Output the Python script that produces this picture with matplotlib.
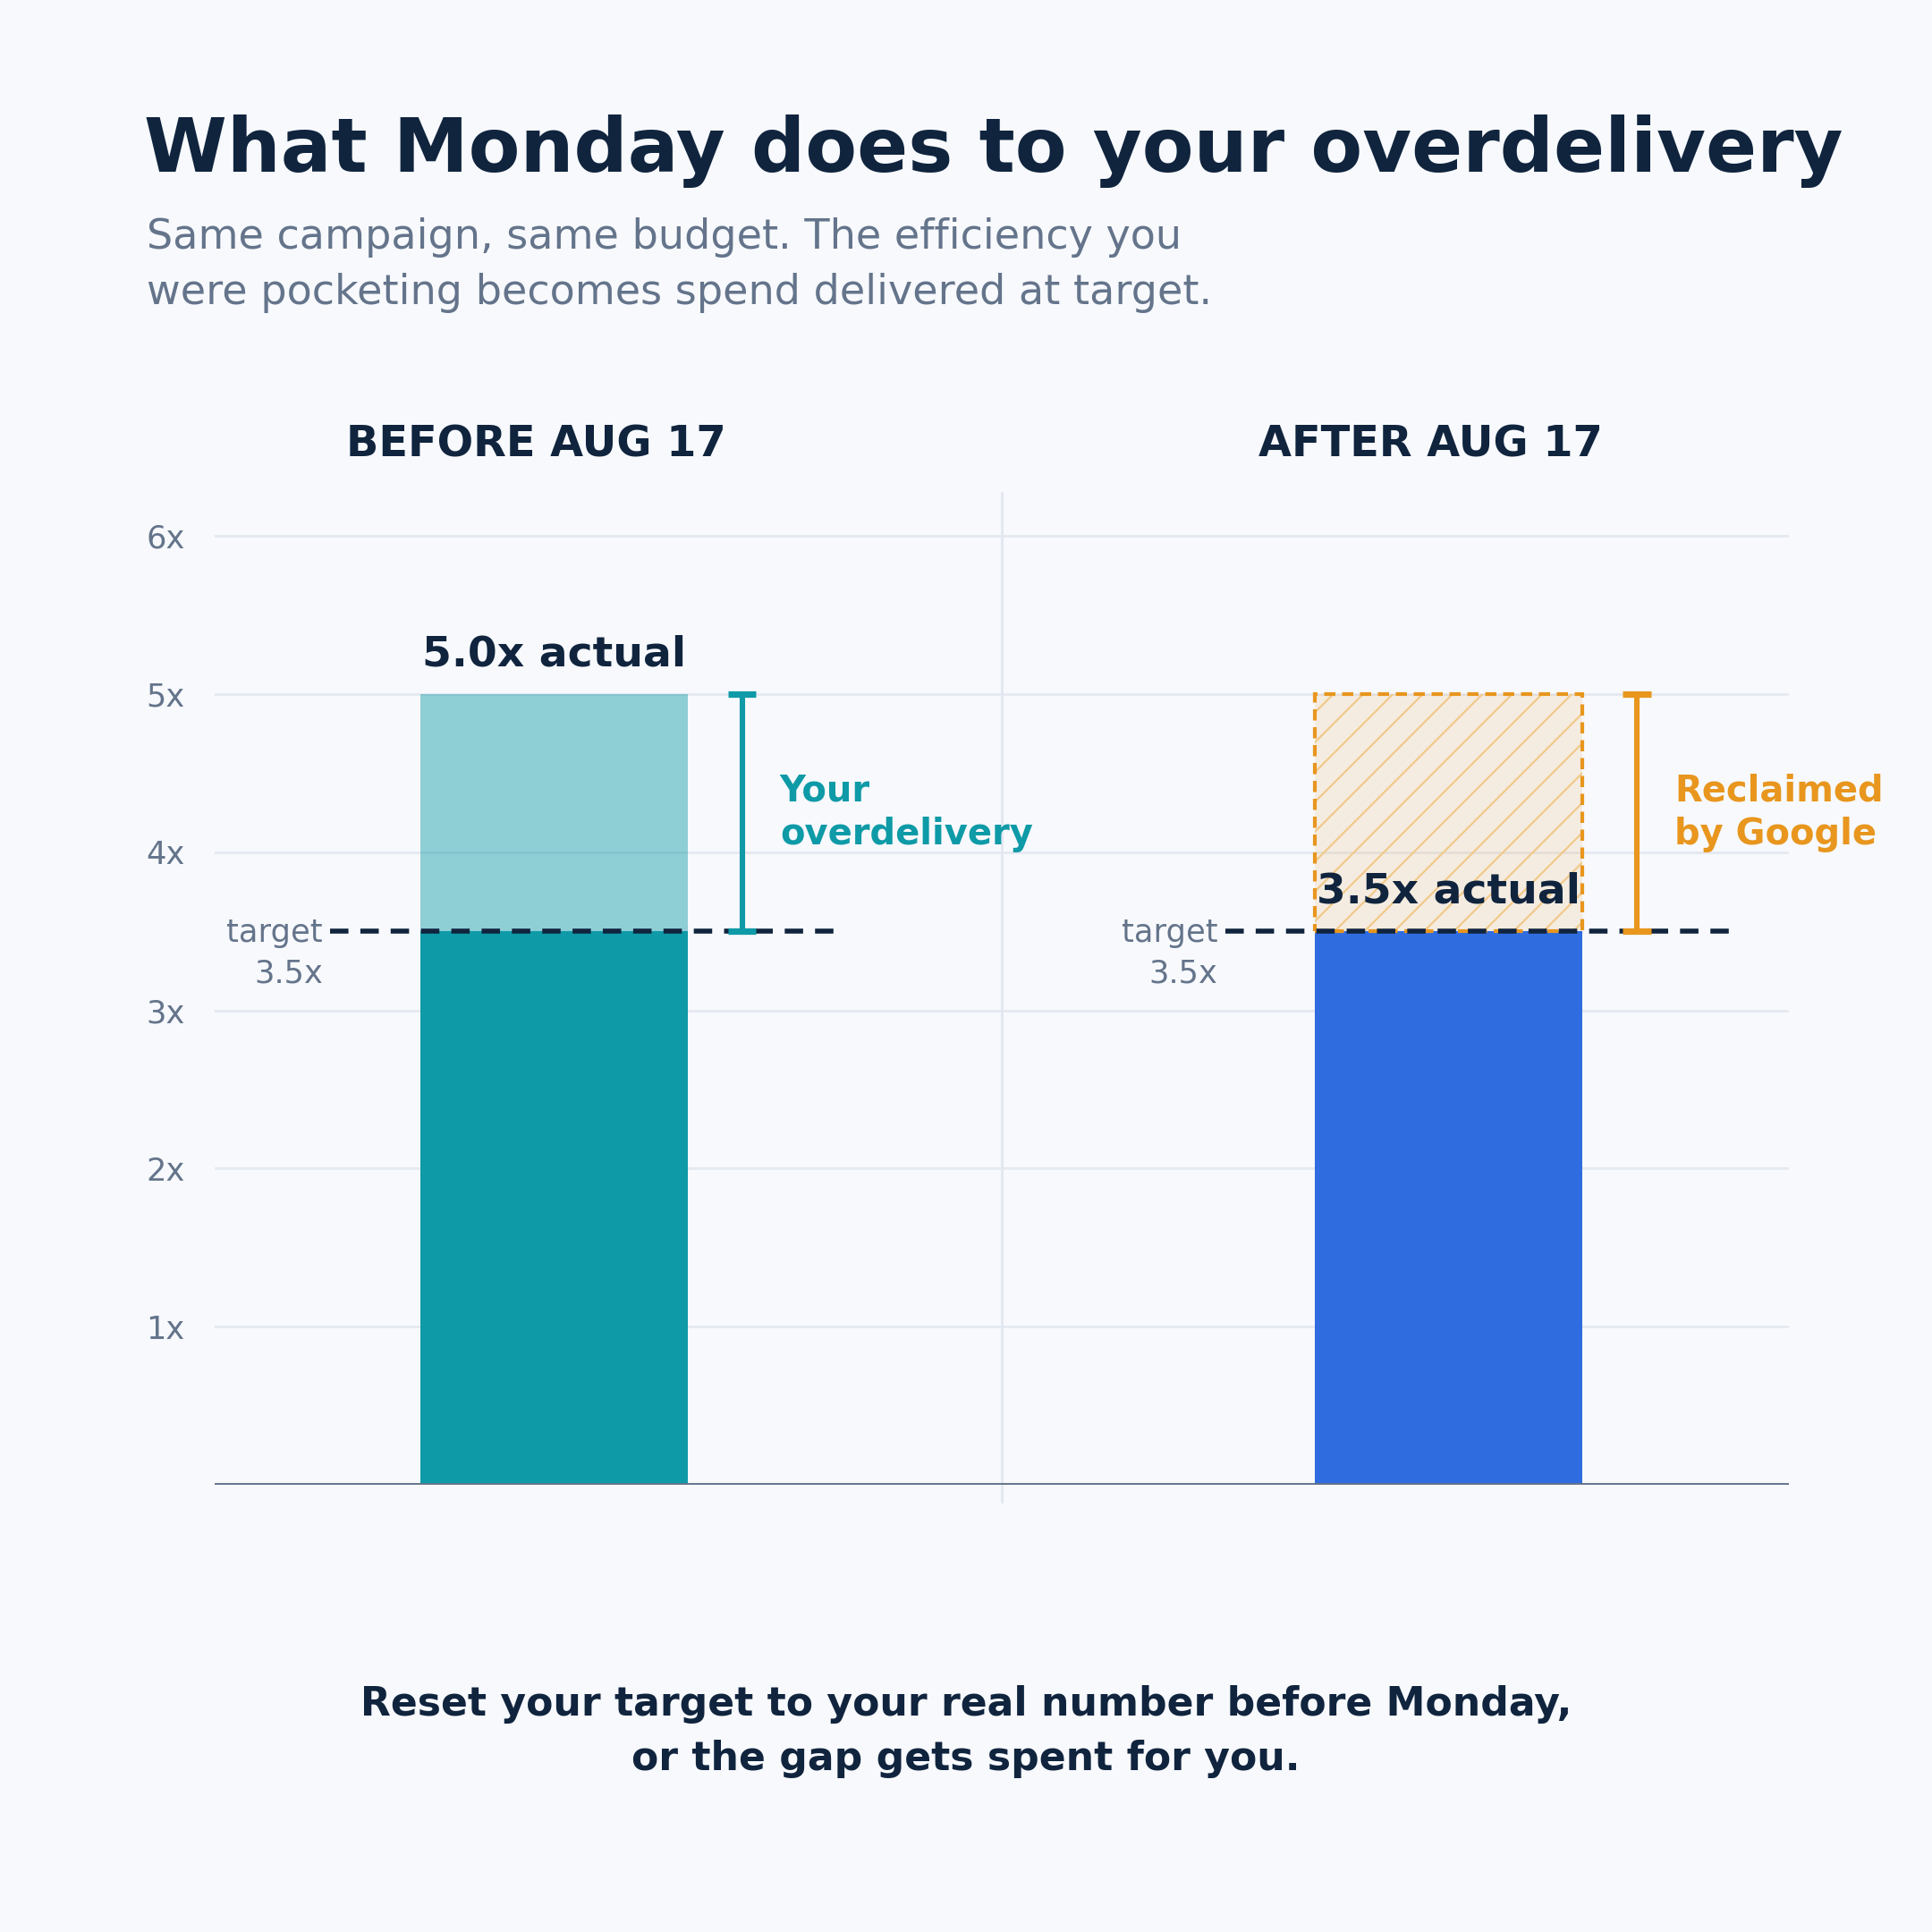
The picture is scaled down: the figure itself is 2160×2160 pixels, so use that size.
import matplotlib
matplotlib.use("Agg")
import matplotlib.pyplot as plt

# ---------------- data ----------------
periods = ["BEFORE AUG 17", "AFTER AUG 17"]
target_roas = [3.5, 3.5]
actual_roas = [5.0, 3.5]
potential_roas = [5.0, 5.0]
gap_labels = ["Your\noverdelivery", "Reclaimed\nby Google"]
ytick_values = [1, 2, 3, 4, 5, 6]
ytick_labels = ["1x", "2x", "3x", "4x", "5x", "6x"]

title = "What Monday does to your overdelivery"
subtitle = ("Same campaign, same budget. The efficiency you\n"
            "were pocketing becomes spend delivered at target.")
footer = ("Reset your target to your real number before Monday,\n"
          "or the gap gets spent for you.")

# ---------------- style / layout ----------------
BG = "#f7f9fc"
NAVY = "#10243e"
GRAY = "#64748b"
GRID = "#e5e9f0"
TEAL = "#0e9aa7"
BLUE = "#2f6ce0"
ORANGE = "#e8961e"
HATCH = "#f1c98a"

bar_x = [0.431, 1.568]
bar_w = 0.34
header_dx = -0.023
bracket_dx = 0.239
label_dx = 0.287
line_left = -0.284
line_right = 0.357
target_lbl_dx = -0.2935

plt.rcParams["font.family"] = ["DejaVu Sans"]
plt.rcParams["hatch.linewidth"] = 0.8

fig = plt.figure(figsize=(10.8, 10.8), dpi=200, facecolor=BG)
ax = fig.add_axes([0.1111, 0.2315, 0.8148, 0.5157])
ax.set_facecolor(BG)
ax.set_xlim(0, 2)
ax.set_ylim(0, 6.3)
for s in ax.spines.values():
    s.set_visible(False)
ax.set_xticks([])
ax.set_yticks(ytick_values)
ax.set_yticklabels(ytick_labels)
ax.tick_params(axis="y", length=0, pad=12, labelsize=12.7, labelcolor=GRAY)
ax.yaxis.grid(True, color=GRID, linewidth=1.0, zorder=0)
ax.set_axisbelow(True)
ax.axhline(0, color=GRAY, linewidth=1.4, zorder=5)

# divider between the two panels
ax.plot([1, 1], [-0.107, 6.27], color="#e2e8f0", linewidth=1.0,
        clip_on=False, zorder=1)

# ---------------- left panel ----------------
x0 = bar_x[0]
ax.bar(x0, min(actual_roas[0], target_roas[0]), width=bar_w, color=TEAL,
       zorder=2, linewidth=0)
ax.bar(x0, actual_roas[0] - target_roas[0], bottom=target_roas[0], width=bar_w,
       color=TEAL, alpha=0.45, zorder=2, linewidth=0)

# ---------------- right panel ----------------
x1 = bar_x[1]
ax.bar(x1, actual_roas[1], width=bar_w, color=BLUE, zorder=2, linewidth=0)
gap = potential_roas[1] - actual_roas[1]
ax.bar(x1, gap, bottom=actual_roas[1], width=bar_w,
       facecolor=(0.91, 0.59, 0.12, 0.12), edgecolor=HATCH, hatch="//",
       linewidth=0, zorder=2)
ax.bar(x1, gap, bottom=actual_roas[1], width=bar_w, fill=False,
       edgecolor=ORANGE, linewidth=1.5, linestyle=(0, (3, 1.8)), zorder=3)

bracket_colors = [TEAL, ORANGE]
for i, x in enumerate(bar_x):
    # panel header
    ax.text(x + header_dx, 6.5, periods[i], ha="center", va="baseline",
            fontsize=17.2, fontweight="bold", color=NAVY, clip_on=False)
    # target line
    ax.plot([x + line_left, x + line_right], [target_roas[i]] * 2,
            color=NAVY, linewidth=2.0, linestyle=(0, (3.7, 2.4)), zorder=6,
            solid_capstyle="butt", dash_capstyle="butt")
    ax.text(x + target_lbl_dx, target_roas[i] - 0.327,
            f"target\n{target_roas[i]}x", ha="right", va="baseline",
            multialignment="right", fontsize=12.7, color=GRAY,
            linespacing=1.45, zorder=7)
    # actual label
    ax.text(x, actual_roas[i] + 0.18, f"{actual_roas[i]:.1f}x actual",
            ha="center", va="baseline", fontsize=17, fontweight="bold",
            color=NAVY, zorder=8)
    # bracket
    lo, hi = target_roas[i], potential_roas[i]
    c = bracket_colors[i]
    bx = x + bracket_dx
    ax.plot([bx, bx], [lo, hi], color=c, linewidth=2.2, zorder=7,
            solid_capstyle="butt")
    for yy in (lo, hi):
        ax.plot([bx - 0.018, bx + 0.018], [yy, yy], color=c, linewidth=2.6,
                zorder=7, solid_capstyle="butt")
    ax.text(x + label_dx, (lo + hi) / 2, gap_labels[i], ha="left",
            va="center", fontsize=14.4, fontweight="bold", color=c,
            linespacing=1.29, zorder=7)

# ---------------- figure texts ----------------
fig.text(0.0745, 0.9109, title, ha="left", va="baseline", fontsize=30.3,
         fontweight="bold", color=NAVY)
fig.text(0.0759, 0.8427, subtitle, ha="left", va="baseline", fontsize=16.6,
         color=GRAY, linespacing=1.49)
fig.text(0.5, 0.0840, footer, ha="center", va="baseline", fontsize=15.9,
         fontweight="bold", color=NAVY, linespacing=1.51,
         multialignment="center")

fig.savefig("out.png", dpi=200, facecolor=BG)
